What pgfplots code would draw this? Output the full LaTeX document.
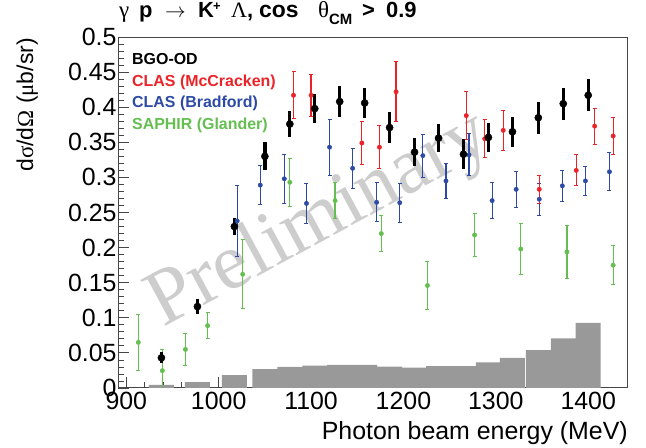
\documentclass[border=0pt]{standalone}
\usepackage{pgfplots}
\usepackage{pgfplotstable}
\pgfplotsset{compat=1.18}
\usepackage{fontspec}
\setmainfont{Liberation Sans}
\newfontfamily\symfont{Liberation Serif}
\definecolor{clasred}{RGB}{235,35,40}
\definecolor{clasblue}{RGB}{45,75,165}
\definecolor{saphgreen}{RGB}{100,190,80}
\definecolor{histgray}{RGB}{153,153,153}
\definecolor{prelim}{RGB}{205,205,205}
\definecolor{framegray}{RGB}{70,70,70}

\pgfplotstableread{
E y ey
938 0.043 0.008
977 0.116 0.0107
1017 0.230 0.0123
1050 0.330 0.020
1077 0.376 0.019
1104 0.398 0.021
1131 0.408 0.022
1158 0.406 0.021
1185 0.371 0.022
1212 0.336 0.020
1238 0.356 0.020
1265 0.333 0.021
1292 0.357 0.021
1318 0.365 0.021
1346 0.385 0.023
1373 0.405 0.0226
1400 0.417 0.0226
}\bgotab

\pgfplotstableread{
E s
938 0.0045
977 0.0085
1017 0.0185
1050 0.027
1077 0.030
1104 0.032
1131 0.033
1158 0.033
1185 0.0305
1212 0.029
1238 0.031
1265 0.031
1292 0.0366
1318 0.043
1346 0.054
1373 0.0707
1400 0.0926
}\systab

\pgfplotstableread{
E y ey
1081 0.417 0.0337
1100 0.417 0.030
1155 0.349 0.031
1174 0.343 0.031
1192 0.422 0.043
1268 0.388 0.034
1288 0.355 0.027
1308 0.367 0.029
1347 0.283 0.020
1387 0.310 0.022
1407 0.373 0.0256
1427 0.359 0.027
}\mccrackentab

\pgfplotstableread{
E y ey
1020 0.238 0.0506
1045 0.289 0.028
1071 0.298 0.035
1095 0.263 0.028
1120 0.343 0.040
1145 0.313 0.0285
1171 0.2645 0.028
1196 0.264 0.028
1221 0.331 0.0306
1246 0.295 0.0254
1271 0.332 0.030
1296 0.267 0.026
1322 0.283 0.026
1347 0.269 0.023
1372 0.288 0.022
1397 0.295 0.0207
1423 0.308 0.027
}\bradfordtab

\pgfplotstableread{
E y ey
913 0.065 0.040
939 0.0247 0.030
964 0.055 0.023
988 0.0888 0.019
1026 0.162 0.049
1077 0.293 0.034
1126 0.267 0.026
1176 0.220 0.026
1226 0.146 0.034
1277 0.218 0.030
1327 0.198 0.036
1377 0.194 0.0375
1427 0.175 0.028
}\glandertab

\begin{document}
\begin{tikzpicture}
\path[use as bounding box] (0bp,0bp) rectangle (646bp,448bp);
\begin{axis}[
  at={(118bp,60bp)}, anchor=south west,
  scale only axis, width=509bp, height=351bp,
  xmin=891, xmax=1442, ymin=0, ymax=0.5,
  axis line style={framegray, line width=1bp},
  tick pos=left, tick align=inside,
  xtick={900,1000,1100,1200,1300,1400},
  xticklabels={900,1000,1100,1200,1300,1400},
  minor x tick num=4,
  ytick={0,0.05,0.1,0.15,0.2,0.25,0.3,0.35,0.4,0.45,0.5},
  yticklabels={0,0.05,0.1,0.15,0.2,0.25,0.3,0.35,0.4,0.45,0.5},
  minor y tick num=4,
  major tick length=11bp, minor tick length=6bp,
  tick style={framegray, line width=0.8bp},
  ticklabel style={font=\fontsize{25}{25}\selectfont},
  /pgf/number format/assume math mode=true,
  xticklabel style={yshift=-1bp},
  yticklabel style={xshift=2bp},
]
\node[anchor=base west, rotate=28.4, inner sep=0pt, text=prelim,
      font=\symfont\fontsize{80}{80}\selectfont] at (axis cs:940,0.0855) {Preliminary};

\addplot[ybar, bar width=27, fill=histgray, draw=none] table[x=E, y=s] {\systab};

\addplot[only marks, mark=*, mark size=2.2bp, color=saphgreen,
  error bars/.cd, y dir=both, y explicit,
  error bar style={line width=1.2bp},
  error mark options={rotate=90, mark size=2bp, line width=1bp}]
  table[x=E, y=y, y error=ey] {\glandertab};

\addplot[only marks, mark=*, mark size=2.2bp, color=clasblue,
  error bars/.cd, y dir=both, y explicit,
  error bar style={line width=1.2bp},
  error mark options={rotate=90, mark size=2bp, line width=1bp}]
  table[x=E, y=y, y error=ey] {\bradfordtab};

\addplot[only marks, mark=*, mark size=2.2bp, color=clasred,
  error bars/.cd, y dir=both, y explicit,
  error bar style={line width=1.2bp},
  error mark options={rotate=90, mark size=2bp, line width=1bp}]
  table[x=E, y=y, y error=ey] {\mccrackentab};

\addplot[only marks, mark=*, mark size=3.6bp, color=black,
  error bars/.cd, y dir=both, y explicit,
  error bar style={line width=3.3bp},
  error mark=none]
  table[x=E, y=y, y error=ey] {\bgotab};
\end{axis}

% title, set piece by piece
\begin{scope}[every node/.style={anchor=base west, inner sep=0pt}]
\node at (119bp,430bp) {\symfont\fontsize{23}{23}\selectfont γ};
\node at (139bp,430bp) {\bfseries\fontsize{22}{22}\selectfont p};
\node at (165bp,430bp) {\fontsize{22}{22}\selectfont $\rightarrow$};
\node at (198bp,430bp) {\bfseries\fontsize{22}{22}\selectfont K};
\node at (213bp,437bp) {\bfseries\fontsize{13}{13}\selectfont +};
\node at (231bp,430bp) {\symfont\fontsize{22}{22}\selectfont Λ};
\node at (247bp,430bp) {\bfseries\fontsize{22}{22}\selectfont ,};
\node at (259bp,430bp) {\bfseries\fontsize{23}{23}\selectfont cos};
\node at (318bp,430bp) {\symfont\fontsize{23}{23}\selectfont θ};
\node at (329bp,423bp) {\bfseries\fontsize{15}{15}\selectfont CM};
\node at (362bp,430bp) {\bfseries\fontsize{22}{22}\selectfont >};
\node at (386bp,430bp) {\bfseries\fontsize{22}{22}\selectfont 0.9};
\end{scope}

% axis titles
\node[rotate=90, anchor=base east, inner sep=0pt] at (33bp,410bp)
  {\fontsize{23}{23}\selectfont d{\symfont σ}/d{\symfont Ω} ({\symfont μ}b/sr)};
\node[anchor=base east, inner sep=0pt] at (628bp,9bp)
  {\fontsize{25}{25}\selectfont Photon beam energy (MeV)};

% legend
\node[anchor=base west, inner sep=0pt, text=black] at (132bp,383bp)
  {\bfseries\fontsize{16}{16}\selectfont BGO-OD};
\node[anchor=base west, inner sep=0pt, text=clasred] at (132bp,361.5bp)
  {\bfseries\fontsize{16}{16}\selectfont CLAS (McCracken)};
\node[anchor=base west, inner sep=0pt, text=clasblue] at (132bp,340bp)
  {\bfseries\fontsize{16}{16}\selectfont CLAS (Bradford)};
\node[anchor=base west, inner sep=0pt, text=saphgreen] at (132bp,318bp)
  {\bfseries\fontsize{16}{16}\selectfont SAPHIR (Glander)};
\end{tikzpicture}
\end{document}
